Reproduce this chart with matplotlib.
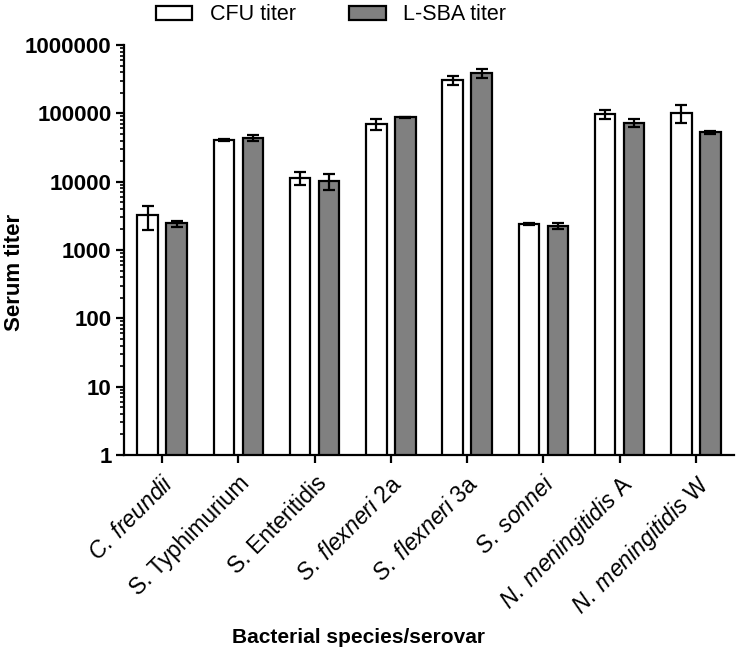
import numpy as np
import matplotlib
matplotlib.use("Agg")
import matplotlib.pyplot as plt
from matplotlib.ticker import LogLocator, FuncFormatter, NullFormatter
from matplotlib.patches import Patch

plt.rcParams["font.family"] = ["Liberation Sans", "DejaVu Sans"]
plt.rcParams["mathtext.fontset"] = "custom"
plt.rcParams["mathtext.rm"] = "Liberation Sans"
plt.rcParams["mathtext.it"] = "Liberation Sans:italic"

# Werte
species = [r"$\mathit{C.\;freundii}$", "S. Typhimurium", "S. Enteritidis",
           r"$\mathit{S.\;flexneri}$ 2a", r"$\mathit{S.\;flexneri}$ 3a",
           r"$\mathit{S.\;sonnei}$", r"$\mathit{N.\;meningitidis}$ A",
           r"$\mathit{N.\;meningitidis}$ W"]
cfu      = [3200, 41000, 11400, 70000, 310000, 2400, 97000, 102000]
cfu_err  = [1250, 1500, 2500, 13000, 47000, 60, 14000, 29000]
lsba     = [2450, 44000, 10300, 87000, 385000, 2250, 73000, 53000]
lsba_err = [250, 4000, 2700, 2000, 60000, 200, 9000, 3000]

C_GRAY = "#808080"
LW = 1.6

fig = plt.figure(figsize=(7.39, 6.52), dpi=100)
ax = fig.add_axes([124 / 739, 1 - 455 / 652, 610 / 739, 410 / 652])

x = np.arange(len(species))
off, w = 0.19, 0.27
err_kw = dict(ecolor="black", elinewidth=LW, capsize=4.5, capthick=LW)
ax.bar(x - off, cfu, w, yerr=cfu_err, color="white", edgecolor="black",
       linewidth=LW, error_kw=err_kw)
ax.bar(x + off, lsba, w, yerr=lsba_err, color=C_GRAY, edgecolor="black",
       linewidth=LW, error_kw=err_kw)

ax.set_yscale("log")
ax.set_ylim(1, 1e6)
ax.set_xlim(-0.5, len(species) - 0.5)
ax.yaxis.set_major_locator(LogLocator(base=10, numticks=10))
ax.yaxis.set_minor_locator(LogLocator(base=10, subs=np.arange(2, 10), numticks=12))
ax.yaxis.set_major_formatter(FuncFormatter(lambda v, p: f"{int(round(v))}"))
ax.yaxis.set_minor_formatter(NullFormatter())
ax.tick_params(axis="y", which="major", length=6, width=LW, labelsize=16, pad=3)
ax.tick_params(axis="y", which="minor", length=3, width=1.2)
ax.tick_params(axis="x", length=6, width=LW, pad=6)
for lbl in ax.get_yticklabels():
    lbl.set_fontweight("bold")

ax.set_xticks(x)
ax.set_xticklabels(species, rotation=45, ha="right", rotation_mode="anchor",
                   fontsize=16.5)

ax.spines[["top", "right"]].set_visible(False)
ax.spines[["left", "bottom"]].set_linewidth(LW)

ax.set_ylabel("Serum titer", fontsize=16, fontweight="bold")
ax.yaxis.set_label_coords(-0.162, 0.446)
ax.set_xlabel("Bacterial species/serovar", fontsize=15, fontweight="bold")
ax.xaxis.set_label_coords(0.384, -0.422)

handles = [Patch(facecolor="white", edgecolor="black", linewidth=LW),
           Patch(facecolor=C_GRAY, edgecolor="black", linewidth=LW)]
fig.legend(handles, ["CFU titer", "L-SBA titer"], ncol=2, frameon=False,
           loc="center", bbox_to_anchor=(331 / 739, 1 - 15 / 652), fontsize=15.5,
           handlelength=1.7, handleheight=0.67, handletextpad=0.8,
           columnspacing=2.5)

fig.savefig("out.png", dpi=100)
